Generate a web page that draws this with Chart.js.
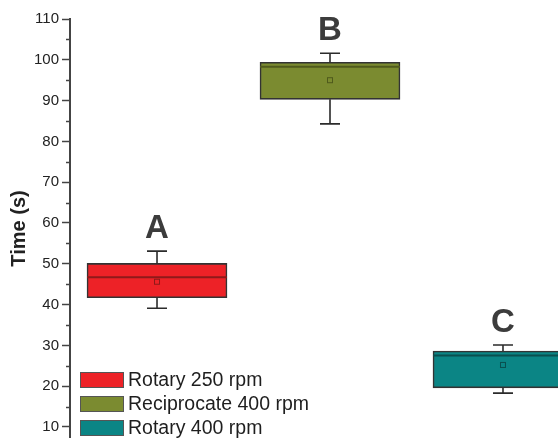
<!DOCTYPE html>
<html><head><meta charset="utf-8">
<script src="https://cdn.jsdelivr.net/npm/chart.js@4.4.1/dist/chart.umd.min.js"></script>
<style>html,body{margin:0;padding:0;background:#fff}#wrap{width:558px;height:438px;position:relative}</style>
</head><body><div id="wrap"><canvas id="c" width="558" height="438"></canvas></div>
<script>
const categories = ['Rotary 250 rpm', 'Reciprocate 400 rpm', 'Rotary 400 rpm'];
const groupLabels = ['A', 'B', 'C'];
const positions = [1, 2, 3];
const whiskerLow = [39.1, 84.3, 18.3];
const q1 = [41.7, 90.3, 19.6];
const median = [46.7, 98.3, 27.5];
const q3 = [50.1, 99.4, 28.6];
const whiskerHigh = [53.1, 101.6, 30.1];
const means = [45.6, 95.0, 25.2];
const yTickValues = [10, 20, 30, 40, 50, 60, 70, 80, 90, 100, 110];

const fills = ['#ED2227', '#7B8B30', '#0B8585'];
const medianColors = ['#8E1A1A', '#4F5A1C', '#0A4F4F'];

const boxPlugin = {
  id: 'boxExtras',
  afterDatasetsDraw(chart) {
    const ctx = chart.ctx, x = chart.scales.x, y = chart.scales.y, a = chart.chartArea;
    ctx.save();
    ctx.beginPath(); ctx.rect(a.left, 0, a.right - a.left, chart.height); ctx.clip();
    const half = 70, cap = 10;
    positions.forEach((p, i) => {
      const cx = x.getPixelForValue(p);
      ctx.strokeStyle = '#2b2b2b'; ctx.lineWidth = 1.6;
      ctx.beginPath();
      ctx.moveTo(cx, y.getPixelForValue(q3[i])); ctx.lineTo(cx, y.getPixelForValue(whiskerHigh[i]));
      ctx.moveTo(cx - cap, y.getPixelForValue(whiskerHigh[i])); ctx.lineTo(cx + cap, y.getPixelForValue(whiskerHigh[i]));
      ctx.moveTo(cx, y.getPixelForValue(q1[i])); ctx.lineTo(cx, y.getPixelForValue(whiskerLow[i]));
      ctx.moveTo(cx - cap, y.getPixelForValue(whiskerLow[i])); ctx.lineTo(cx + cap, y.getPixelForValue(whiskerLow[i]));
      ctx.stroke();
      ctx.strokeStyle = medianColors[i]; ctx.lineWidth = 2;
      ctx.beginPath();
      const my = y.getPixelForValue(median[i]);
      ctx.moveTo(cx - half, my); ctx.lineTo(cx + half, my); ctx.stroke();
      const mny = y.getPixelForValue(means[i]);
      ctx.strokeStyle = medianColors[i]; ctx.lineWidth = 1;
      ctx.strokeRect(cx - 2.5, mny - 2.5, 5, 5);
      ctx.fillStyle = '#3c3c3c';
      ctx.font = 'bold 33px "Liberation Sans", Arial, sans-serif';
      ctx.textAlign = 'center'; ctx.textBaseline = 'alphabetic';
      ctx.fillText(groupLabels[i], cx, y.getPixelForValue(whiskerHigh[i]) - 13);
    });
    ctx.restore();
    ctx.save();
    ctx.strokeStyle = '#444'; ctx.lineWidth = 1.5;
    ctx.beginPath();
    for (let v = 15; v < 110; v += 10) {
      const py = Math.round(y.getPixelForValue(v)) + 0.5;
      ctx.moveTo(a.left - 4, py); ctx.lineTo(a.left, py);
    }
    ctx.stroke();
    const ly = [380, 404, 428];
    categories.forEach((c, i) => {
      ctx.fillStyle = fills[i];
      ctx.fillRect(80, ly[i] - 8, 44, 16);
      ctx.strokeStyle = '#555'; ctx.lineWidth = 1;
      ctx.strokeRect(80.5, ly[i] - 7.5, 43, 15);
      ctx.fillStyle = '#1e1e1e';
      ctx.font = '19.5px "Liberation Sans", Arial, sans-serif';
      ctx.textAlign = 'left'; ctx.textBaseline = 'middle';
      ctx.fillText(c, 128, ly[i] + 1);
    });
    ctx.restore();
  }
};

new Chart(document.getElementById('c'), {
  type: 'bar',
  data: {
    datasets: [{
      data: positions.map((p, i) => ({ x: p, y: [q1[i], q3[i]] })),
      backgroundColor: fills,
      borderColor: '#333',
      borderWidth: 1.6,
      borderSkipped: false,
      barThickness: 140
    }]
  },
  options: {
    responsive: false,
    animation: false,
    layout: { padding: { top: 19, right: 0, bottom: 0, left: 0 } },
    plugins: { legend: { display: false }, tooltip: { enabled: false } },
    scales: {
      x: { type: 'linear', min: 0.497, max: 3.318, offset: false, display: false },
      y: {
        min: 7.3, max: 110,
        afterBuildTicks: (s) => { s.ticks = yTickValues.map(v => ({ value: v })); },
        afterFit: (s) => { s.width = 70; s.paddingTop = 0; s.paddingBottom = 0; },
        border: { display: true, color: '#444', width: 2 },
        grid: { drawOnChartArea: false, tickLength: 8, tickColor: '#444', tickWidth: 1.5 },
        ticks: { color: '#222', padding: 3, font: { family: '"Liberation Sans", Arial, sans-serif', size: 15 } },
        title: { display: true, text: 'Time (s)', color: '#222', padding: { top: 7, bottom: 0 },
          font: { family: '"Liberation Sans", Arial, sans-serif', size: 20, weight: 'bold' } }
      }
    }
  },
  plugins: [boxPlugin]
});
</script></body></html>
